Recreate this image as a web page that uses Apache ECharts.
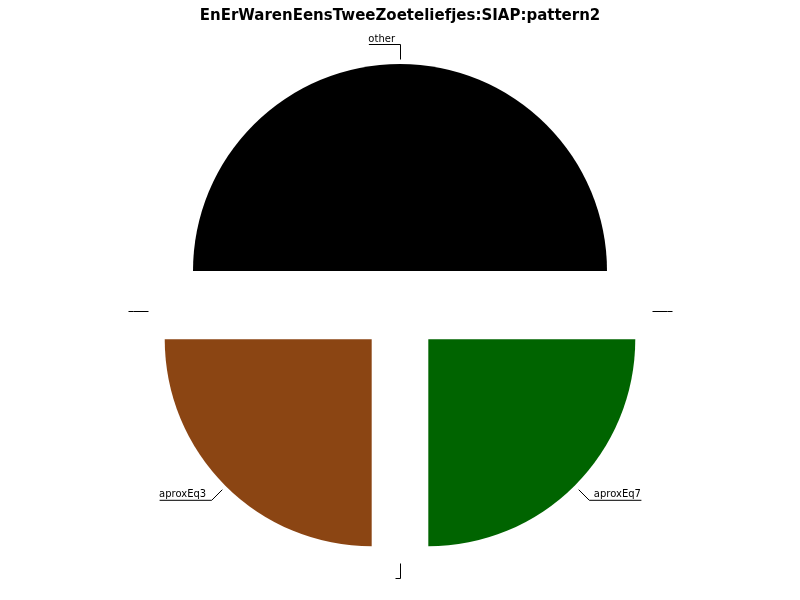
<!DOCTYPE html>
<html>
<head>
<meta charset="utf-8">
<script src="https://cdn.jsdelivr.net/npm/echarts@6/dist/echarts.min.js"></script>
<style>html,body{margin:0;padding:0;background:#fff;}#c{width:800px;height:600px;}</style>
</head>
<body>
<div id="c"></div>
<script>
const titleText = 'EnErWarenEensTweeZoeteliefjes:SIAP:pattern2';
const categories = ['', 'other', '', 'aproxEq3', '', 'aproxEq7'];
const values = [0, 50, 0, 25, 0, 25];
const colors = ['#000000', '#000000', '#000000', '#8B4513', '#000000', '#006400'];
// labels whose underline runs to the left although their angle points straight up/down
const flipLeft = [false, true, false, false, true, false];

const FONT = '"DejaVu Sans", sans-serif';
const ctx = document.createElement('canvas').getContext('2d');
ctx.font = '10px ' + FONT;
function tw(s) { return ctx.measureText(s).width; }

const data = categories.map((name, i) => {
  const w = tw(name);
  return {
    name: name,
    value: values[i],
    selected: true,
    itemStyle: { color: colors[i] },
    labelLine: { length: 20, length2: w + 5 },
    label: { distanceToLabelLine: -w }
  };
});

const chart = echarts.init(document.getElementById('c'), null, { renderer: 'canvas' });
chart.setOption({
  animation: false,
  backgroundColor: '#ffffff',
  title: {
    text: titleText,
    left: 'center',
    top: 4,
    textStyle: { fontFamily: FONT, fontSize: 15, fontWeight: 'bold', color: '#000' }
  },
  series: [{
    type: 'pie',
    center: [400, 311],
    radius: [0, 207],
    startAngle: 0,
    clockwise: false,
    selectedMode: 'multiple',
    selectedOffset: 40,
    avoidLabelOverlap: false,
    emphasis: { scale: false, disabled: true },
    data: data,
    label: {
      show: true,
      position: 'outside',
      formatter: '{b}',
      color: '#000',
      fontFamily: FONT,
      fontSize: 10,
      lineHeight: 12
    },
    labelLine: {
      show: true,
      lineStyle: { color: '#000', width: 1, type: [0, 5, 1000, 0] }
    },
    labelLayout: function (p) {
      const res = { verticalAlign: 'bottom', dy: 1 };
      const pts = p.labelLinePoints;
      if (pts && pts.length === 3) {
        // half-pixel shift keeps the 1px guide lines crisp
        const q = pts.map(pt => [pt[0] + 0.5, pt[1] + 0.5]);
        if (flipLeft[p.dataIndex] && q[2][0] > q[1][0]) {
          const newX = 2 * q[1][0] - q[2][0];
          q[2][0] = newX;
          res.x = newX - 0.5;
          res.align = 'left';
        }
        res.labelLinePoints = q;
      }
      return res;
    }
  }]
});
</script>
</body>
</html>
